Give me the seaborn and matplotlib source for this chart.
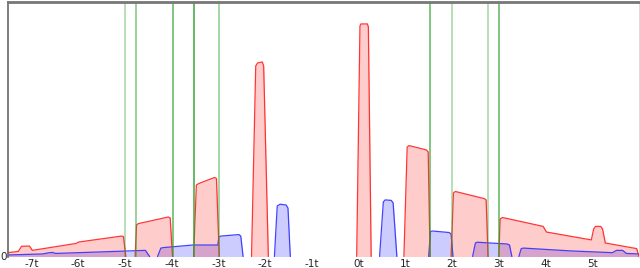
import numpy as np
import pandas as pd
import seaborn as sns
from matplotlib import pyplot as plt

sns.set_style("white")

# red pulse train (outline points, t units / relative height)
red_t = [-7.5, -7.28, -7.21, -7.04, -6.98, -6.05, -5.98, -5.07, -5.03, -4.98,
         -4.78, -4.75, -4.71, -4.07, -4.03, -3.98,
         -3.53, -3.47, -3.42, -3.08, -3.04, -2.98,
         -2.29, -2.20, -2.16, -2.06, -2.03, -1.93,
         -0.04, 0.03, 0.05, 0.19, 0.21, 0.27,
         0.97, 1.04, 1.08, 1.45, 1.49, 1.53,
         1.98, 2.03, 2.07, 2.69, 2.73, 2.77,
         3.00, 3.03, 3.08, 3.95, 4.02, 4.98, 5.03, 5.07, 5.18, 5.22, 5.28, 5.95, 6.0]
red_v = [0.015, 0.020, 0.040, 0.041, 0.024, 0.051, 0.057, 0.080, 0.078, 0.0,
         0.0, 0.124, 0.129, 0.155, 0.151, 0.0,
         0.0, 0.280, 0.286, 0.310, 0.306, 0.0,
         0.0, 0.747, 0.759, 0.763, 0.747, 0.0,
         0.0, 0.904, 0.912, 0.912, 0.900, 0.0,
         0.0, 0.429, 0.435, 0.418, 0.410, 0.0,
         0.0, 0.249, 0.255, 0.227, 0.222, 0.0,
         0.0, 0.147, 0.153, 0.118, 0.096, 0.065, 0.108, 0.118, 0.118, 0.108, 0.053, 0.031, 0.0]

# blue pulse train
blue_t = [-7.5, -6.76, -6.61, -6.55, -6.48, -4.56, -4.47,
          -4.30, -4.23, -4.17, -3.55, -3.01, -2.99, -2.95, -2.56, -2.52, -2.47,
          -1.80, -1.74, -1.68, -1.55, -1.51, -1.46,
          0.45, 0.53, 0.57, 0.70, 0.74, 0.82,
          1.50, 1.54, 1.58, 1.94, 1.98, 2.02,
          2.44, 2.50, 2.54, 3.18, 3.23, 3.28,
          3.43, 3.48, 3.53, 4.53, 5.43, 5.52, 5.65, 5.73, 6.0]
blue_v = [0.006, 0.010, 0.015, 0.016, 0.012, 0.024, 0.0,
          0.0, 0.033, 0.035, 0.045, 0.045, 0.076, 0.080, 0.086, 0.080, 0.0,
          0.0, 0.198, 0.205, 0.202, 0.190, 0.0,
          0.0, 0.214, 0.222, 0.220, 0.210, 0.0,
          0.0, 0.098, 0.100, 0.094, 0.088, 0.0,
          0.0, 0.053, 0.056, 0.049, 0.045, 0.0,
          0.0, 0.031, 0.033, 0.022, 0.015, 0.024, 0.024, 0.012, 0.010]

# green markers
green_t = [-4.99, -4.77, -3.98, -3.52, -2.98, 1.53, 2.00, 2.78, 3.01]
green_alpha = [0.4, 0.55, 0.7, 0.85, 0.5, 0.7, 0.4, 0.4, 0.7]

tick_pos = list(range(-7, 6))
tick_lab = [f"{k}t" for k in tick_pos]


def pulses(t, v):
    # split outline into separate pulses so nothing is drawn along zero
    seg, ids = 0, []
    for i in range(len(v)):
        if i > 0 and v[i] == 0 and v[i - 1] == 0:
            seg += 1
        ids.append(seg)
    return pd.DataFrame({"t": t, "v": v, "pulse": ids})


fig = plt.figure(figsize=(6.4, 2.68), dpi=100)
ax = fig.add_axes([8 / 640, 11.5 / 268, 631 / 640, 255 / 268])

ax.fill_between(blue_t, blue_v, 0, color="#0000ff", alpha=0.2, lw=0)
ax.fill_between(red_t, red_v, 0, color="#ff0000", alpha=0.2, lw=0)
sns.lineplot(data=pulses(blue_t, blue_v), x="t", y="v", units="pulse", sort=False,
             estimator=None, color="#3030ff", lw=0.9, alpha=0.9, ax=ax)
sns.lineplot(data=pulses(red_t, red_v), x="t", y="v", units="pulse", sort=False,
             estimator=None, color="#ff2020", lw=0.9, alpha=0.9, ax=ax)
for gt, ga in zip(green_t, green_alpha):
    ax.axvline(gt, color="#2ca02c", alpha=ga, lw=1.2)

ax.set_xlim(-7.5, 6.0)
ax.set_ylim(0, 1)
ax.set_xticks(tick_pos)
ax.set_xticklabels(tick_lab, fontsize=7.5)
ax.set_yticks([0])
ax.set_yticklabels(["0"], fontsize=7.5)
ax.set_xlabel("")
ax.set_ylabel("")
ax.tick_params(length=0, pad=2)
ax.tick_params(axis="y", pad=1)

ax.spines["bottom"].set_visible(False)
ax.spines["left"].set_color("#666666")
ax.spines["left"].set_linewidth(1.2)
ax.spines["top"].set_color("#777777")
ax.spines["top"].set_linewidth(2)
ax.spines["right"].set_color("#dddddd")
ax.spines["right"].set_linewidth(0.8)

plt.savefig("out.png", dpi=100)
